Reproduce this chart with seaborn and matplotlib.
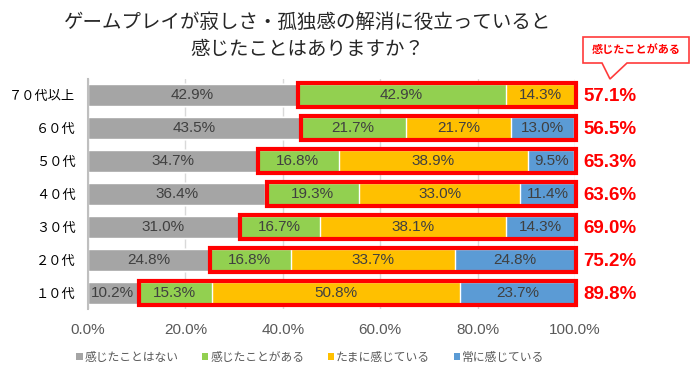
import matplotlib.pyplot as plt
import pandas as pd
import seaborn as sns
from matplotlib.patches import Patch, Polygon, Rectangle

# 年代ごとの回答割合（%）
ages = ["７０代以上", "６０代", "５０代", "４０代", "３０代", "２０代", "１０代"]
never = [42.9, 43.5, 34.7, 36.4, 31.0, 24.8, 10.2]
felt = [42.9, 21.7, 16.8, 19.3, 16.7, 16.8, 15.3]
sometimes = [14.3, 21.7, 38.9, 33.0, 38.1, 33.7, 50.8]
always = [0.0, 13.0, 9.5, 11.4, 14.3, 24.8, 23.7]
felt_total = [57.1, 56.5, 65.3, 63.6, 69.0, 75.2, 89.8]

series_names = ["感じたことはない", "感じたことがある", "たまに感じている", "常に感じている"]
colors = ["#A5A5A5", "#92D050", "#FFC000", "#5B9BD5"]
title = "ゲームプレイが寂しさ・孤独感の解消に役立っていると\n感じたことはありますか？"
callout_text = "感じたことがある"

JP = ["Noto Sans CJK JP", "DejaVu Sans"]
NUM = ["Liberation Sans", "DejaVu Sans"]


def main() -> None:
    sns.set_theme(style="white")
    plt.rcParams["font.family"] = JP

    df = pd.DataFrame(
        {"age": ages, "never": never, "felt": felt, "sometimes": sometimes, "always": always}
    )
    cols = ["never", "felt", "sometimes", "always"]
    starts = df[cols].cumsum(axis=1) - df[cols]
    cums = df[cols].cumsum(axis=1)

    fig = plt.figure(figsize=(7, 3.74), dpi=100)
    ax = fig.add_axes([0.1257, 0.1725, 0.6957, 0.6176])

    # 積み上げは累積値の長い順に重ねて描く
    for col, color in reversed(list(zip(cols, colors))):
        layer = pd.DataFrame({"age": df["age"], "value": cums[col]})
        sns.barplot(
            data=layer, x="value", y="age", color=color, saturation=1,
            width=0.64, errorbar=None, ax=ax, zorder=2,
        )

    for i in range(len(ages)):
        for col in cols:
            v = df.loc[i, col]
            if v <= 0:
                continue
            ax.text(starts.loc[i, col] + v / 2, i, f"{v:.1f}%", ha="center", va="center",
                    fontsize=11, color="#404040", family=NUM, zorder=4)
        # 「感じたことがある」合計の赤枠
        ax.add_patch(Rectangle((never[i] + 0.3, i - 0.36), 100 - never[i], 0.72,
                               fill=False, edgecolor="#FF0000", linewidth=3,
                               clip_on=False, zorder=5))
        ax.text(101.8, i + 0.05, f"{felt_total[i]:.1f}%", ha="left", va="center",
                fontsize=13.5, fontweight="bold", color="#FF0000", family=NUM,
                clip_on=False)

    ax.set_xlim(0, 100)
    ax.set_ylim(6.5, -0.5)
    ax.set_xticks([0, 20, 40, 60, 80, 100])
    ax.set_xticklabels([f"{t:.1f}%" for t in range(0, 101, 20)], family=NUM,
                       fontsize=11, color="#595959")
    ax.tick_params(axis="y", labelsize=9.5, labelcolor="#000000", length=0, pad=9)
    ax.tick_params(axis="x", length=0, pad=10)
    ax.set_xlabel("")
    ax.set_ylabel("")
    ax.grid(axis="x", color="#D9D9D9", linewidth=1, zorder=0)
    ax.set_axisbelow(True)
    for side in ["top", "right", "bottom"]:
        ax.spines[side].set_visible(False)
    ax.spines["left"].set_color("#BFBFBF")
    ax.spines["left"].set_linewidth(1.5)
    ax.spines["left"].set_zorder(3)

    fig.text(0.439, 0.904, title, ha="center", va="center", fontsize=14,
             color="#262626", linespacing=1.4)

    # 吹き出し
    box = [(583, 37), (689, 37), (689, 63), (627, 63), (610, 79), (602, 63), (583, 63)]
    fig.add_artist(Polygon([(x / 700, 1 - y / 374) for x, y in box], closed=True,
                           facecolor="white", edgecolor="#FF3B3B", linewidth=1.2,
                           transform=fig.transFigure))
    fig.text(636 / 700, 1 - 50 / 374, callout_text, ha="center", va="center",
             fontsize=8, fontweight="bold", color="#FF0000")

    handles = [Patch(facecolor=c, edgecolor="none") for c in colors]
    fig.legend(handles, series_names, loc="center", bbox_to_anchor=(0.443, 0.045),
               ncol=4, frameon=False, fontsize=8.5, handlelength=0.55, handleheight=0.55,
               handletextpad=0.15, columnspacing=2.0, labelcolor="#595959")

    fig.savefig("out.png", dpi=100)
    plt.close(fig)


if __name__ == "__main__":
    main()
